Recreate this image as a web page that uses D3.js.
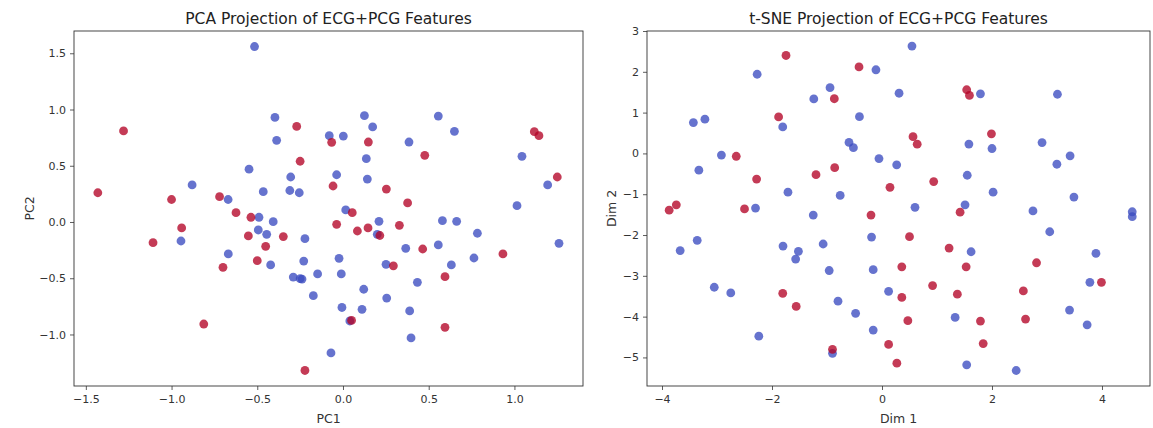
<!DOCTYPE html>
<html><head><meta charset="utf-8">
<script src="https://cdn.jsdelivr.net/npm/d3@7"></script>
<style>
html,body{margin:0;padding:0;background:#fff;}
svg{display:block;font-family:"DejaVu Sans",sans-serif;}
</style></head>
<body>
<svg id="chart" width="1153" height="428"></svg>
<script>
// ---- data ----
const pcaBlue = [
 [-0.516,1.56],[-0.397,0.93],[-0.387,0.726],[-0.548,0.47],[-0.305,0.40],[-0.88,0.33],
 [-0.465,0.27],[-0.31,0.28],[-0.255,0.26],[-0.67,0.20],[0.125,0.945],[0.556,0.942],
 [0.173,0.845],[0.65,0.806],[-0.08,0.767],[0.002,0.764],[0.385,0.711],[0.136,0.563],
 [-0.037,0.42],[0.142,0.382],[1.044,0.584],[1.194,0.33],[1.015,0.145],[0.016,0.107],
 [0.21,0.006],[0.20,-0.11],[0.58,0.012],[0.663,0.006],[0.784,-0.1],[-0.222,-0.148],
 [0.366,-0.234],[0.556,-0.204],[0.764,-0.32],[-0.229,-0.347],[-0.023,-0.323],[0.251,-0.376],
 [0.632,-0.382],[-0.239,-0.507],[-0.148,-0.462],[-0.01,-0.462],[0.434,-0.536],[0.121,-0.598],
 [-0.173,-0.655],[0.255,-0.676],[-0.006,-0.76],[0.111,-0.776],[0.389,-0.791],[0.04,-0.88],
 [0.397,-1.031],[-0.07,-1.164],[-0.49,0.042],[-0.407,0.003],[-0.494,-0.071],[-0.445,-0.11],
 [-0.945,-0.169],[-0.669,-0.284],[-0.422,-0.382],[-0.29,-0.49],[-0.25,-0.504],[1.26,-0.19]
];
const pcaRed = [
 [-1.28,0.81],[-0.27,0.85],[-0.25,0.54],[-1.43,0.26],[-1.0,0.20],[-0.72,0.225],
 [-0.624,0.083],[-0.066,0.708],[0.148,0.711],[0.477,0.593],[-0.058,0.32],[0.253,0.293],
 [0.377,0.17],[1.116,0.803],[1.143,0.767],[1.25,0.40],[0.054,0.083],[-0.037,-0.021],
 [0.084,-0.08],[0.146,-0.053],[0.215,-0.12],[0.329,-0.03],[0.465,-0.24],[0.933,-0.284],
 [0.294,-0.39],[0.595,-0.486],[0.05,-0.875],[0.595,-0.936],[-0.222,-1.32],[-0.537,0.042],
 [-0.941,-0.053],[-0.552,-0.124],[-0.348,-0.13],[-1.108,-0.184],[-0.451,-0.216],[-0.5,-0.344],
 [-0.7,-0.403],[-0.812,-0.907]
];
const tsneBlue = [
 [-2.27,1.94],[-0.945,1.61],[-1.24,1.336],[-3.43,0.755],[-3.22,0.838],[-1.805,0.65],
 [-0.41,0.9],[-0.6,0.27],[-0.52,0.14],[-2.92,-0.04],[-3.33,-0.41],[-1.71,-0.95],
 [-0.76,-1.03],[-2.3,-1.34],[-1.25,-1.51],[-3.36,-2.13],[-3.67,-2.38],[-1.8,-2.27],
 [-1.52,-2.4],[-1.57,-2.59],[-1.07,-2.22],[-0.96,-2.87],[-3.05,-3.28],[-2.75,-3.42],
 [-0.8,-3.62],[-0.48,-3.92],[-2.24,-4.48],[-0.9,-4.9],[0.545,2.63],[-0.11,2.05],
 [0.31,1.475],[1.79,1.46],[3.19,1.45],[1.58,0.23],[2.0,0.12],[2.91,0.265],
 [3.42,-0.06],[3.18,-0.265],[-0.055,-0.127],[0.267,-0.28],[1.55,-0.535],[2.02,-0.95],
 [3.49,-1.07],[0.6,-1.32],[1.51,-1.26],[2.745,-1.41],[4.55,-1.43],[4.55,-1.55],
 [-0.19,-2.05],[1.62,-2.41],[3.05,-1.92],[3.89,-2.45],[-0.16,-2.85],[0.12,-3.38],
 [3.78,-3.16],[1.33,-4.02],[3.41,-3.84],[3.73,-4.2],[-0.16,-4.33],[1.54,-5.18],[2.44,-5.32]
];
const tsneRed = [
 [-1.745,2.40],[-0.418,2.12],[-0.867,1.34],[-1.88,0.895],[-2.65,-0.07],[-2.28,-0.63],
 [-1.2,-0.52],[-0.86,-0.35],[-3.74,-1.26],[-3.87,-1.39],[-2.5,-1.36],[-1.805,-3.43],
 [-1.56,-3.75],[-0.9,-4.8],[1.54,1.56],[1.59,1.42],[0.564,0.41],[0.64,0.226],
 [1.99,0.48],[0.94,-0.69],[0.145,-0.83],[-0.2,-1.51],[1.42,-1.44],[0.5,-2.04],
 [1.22,-2.32],[0.36,-2.78],[1.53,-2.78],[2.81,-2.68],[0.92,-3.24],[0.36,-3.53],
 [1.37,-3.45],[2.57,-3.37],[3.99,-3.16],[0.47,-4.1],[1.79,-4.11],[2.61,-4.06],
 [0.12,-4.68],[1.84,-4.66],[0.27,-5.14]
];
const pcaXTicks = [-1.5,-1.0,-0.5,0.0,0.5,1.0];
const pcaYTicks = [-1.0,-0.5,0.0,0.5,1.0,1.5];
const tsneXTicks = [-4,-2,0,2,4];
const tsneYTicks = [-5,-4,-3,-2,-1,0,1,2,3];
const pcaXDomain = [-1.569,1.400];
const pcaYDomain = [-1.458,1.698];
const tsneXDomain = [-4.273,4.873];
const tsneYDomain = [-5.70,3.00];

// ---- drawing ----
const svg = d3.select("#chart");
const blueColor = "#3b4cc0", redColor = "#b40426";

function panel(cfg){
  const x = d3.scaleLinear().domain(cfg.xDomain).range([cfg.left, cfg.right]);
  const y = d3.scaleLinear().domain(cfg.yDomain).range([cfg.bottom, cfg.top]);
  const g = svg.append("g");
  const clipId = "clip" + cfg.id;
  svg.append("clipPath").attr("id", clipId).append("rect")
    .attr("x", cfg.left).attr("y", cfg.top)
    .attr("width", cfg.right - cfg.left).attr("height", cfg.bottom - cfg.top);
  const pts = g.append("g").attr("clip-path", `url(#${clipId})`);
  [[cfg.blue, blueColor],[cfg.red, redColor]].forEach(([data,col])=>{
    pts.selectAll(null).data(data).enter().append("circle")
      .attr("cx", d=>x(d[0])).attr("cy", d=>y(d[1])).attr("r", 4.4)
      .attr("fill", col).attr("fill-opacity", 0.78);
  });
  const xa = g.append("g").attr("transform", `translate(0,${cfg.bottom})`)
    .call(d3.axisBottom(x).tickValues(cfg.xTicks).tickSize(4).tickPadding(5).tickFormat(cfg.fmt));
  const ya = g.append("g").attr("transform", `translate(${cfg.left},0)`)
    .call(d3.axisLeft(y).tickValues(cfg.yTicks).tickSize(4).tickPadding(4).tickFormat(cfg.fmt));
  [xa,ya].forEach(a=>{
    a.select(".domain").remove();
    a.selectAll(".tick line").attr("stroke","#333").attr("stroke-width",0.8);
    a.selectAll(".tick text").attr("fill","#333").style("font-size","11px")
      .style("font-family","'DejaVu Sans',sans-serif");
  });
  g.append("rect").attr("x", cfg.left).attr("y", cfg.top)
    .attr("width", cfg.right - cfg.left).attr("height", cfg.bottom - cfg.top)
    .attr("fill","none").attr("stroke","#333").attr("stroke-width",0.9);
  g.append("text").attr("x",(cfg.left+cfg.right)/2).attr("y",cfg.top-7)
    .attr("text-anchor","middle").style("font-size","15.5px").attr("fill","#222").text(cfg.title);
  g.append("text").attr("x",(cfg.left+cfg.right)/2).attr("y",cfg.bottom+37)
    .attr("text-anchor","middle").style("font-size","12.5px").attr("fill","#333").text(cfg.xlabel);
  g.append("text").attr("transform",`translate(${cfg.ylabelX},${(cfg.top+cfg.bottom)/2}) rotate(-90)`)
    .attr("text-anchor","middle").style("font-size","12.5px").attr("fill","#333").text(cfg.ylabel);
}

panel({id:1, left:74, right:583, top:31, bottom:386,
  xDomain:pcaXDomain, yDomain:pcaYDomain, xTicks:pcaXTicks, yTicks:pcaYTicks,
  fmt:d3.format(".1f"), blue:pcaBlue, red:pcaRed,
  title:"PCA Projection of ECG+PCG Features", xlabel:"PC1", ylabel:"PC2", ylabelX:34});
panel({id:2, left:647, right:1150, top:31, bottom:386,
  xDomain:tsneXDomain, yDomain:tsneYDomain, xTicks:tsneXTicks, yTicks:tsneYTicks,
  fmt:d3.format("d"), blue:tsneBlue, red:tsneRed,
  title:"t-SNE Projection of ECG+PCG Features", xlabel:"Dim 1", ylabel:"Dim 2", ylabelX:616});
</script>
</body></html>
